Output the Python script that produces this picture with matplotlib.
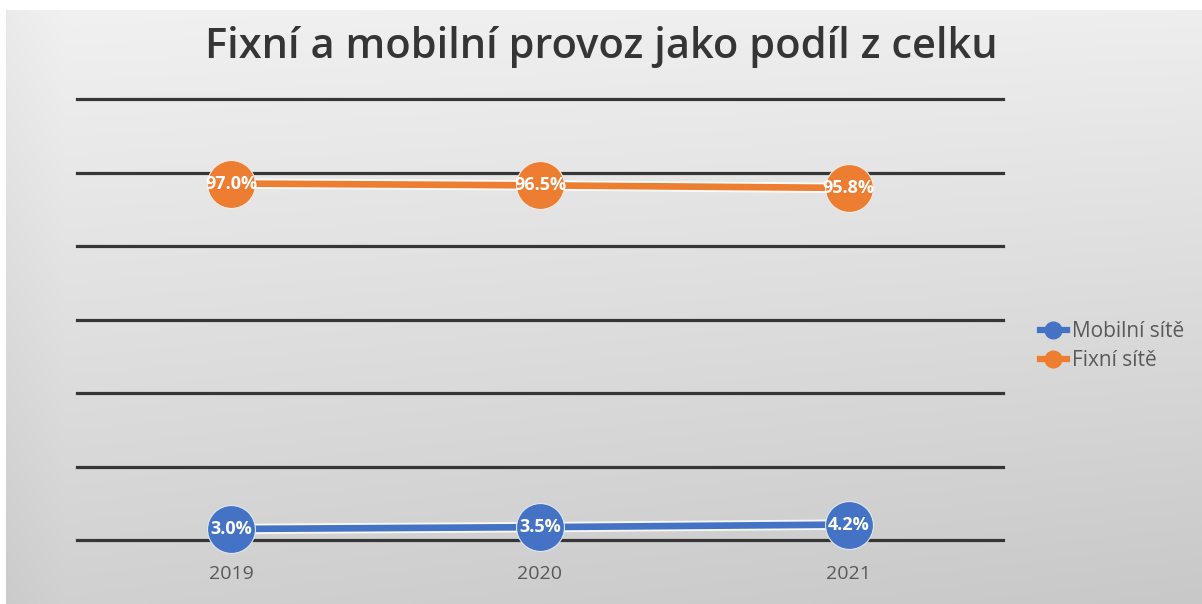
import numpy as np
import matplotlib
matplotlib.use("Agg")
import matplotlib.pyplot as plt
import matplotlib.patheffects as pe
from matplotlib.lines import Line2D

# ---- data ----
years = ["2019", "2020", "2021"]
mobilni = [0.030, 0.035, 0.042]
fixni = [0.970, 0.965, 0.958]
series_names = ["Mobilní sítě", "Fixní sítě"]
title = "Fixní a mobilní provoz jako podíl z celku"
y_ticks = [0.0, 0.2, 0.4, 0.6, 0.8, 1.0, 1.2]

BLUE = "#4472C4"
ORANGE = "#ED7D31"
W, H = 1202, 604

fig = plt.figure(figsize=(W / 100, H / 100), dpi=100)
fig.patch.set_facecolor("white")

# background gradient panel
bg = fig.add_axes([6 / W, 0, 1 - 6 / W, (H - 10) / H])
bg.set_axis_off()
yy, xx = np.mgrid[0:594, 0:1196]
fy = yy / 594
fx = xx / 1196
v = 241 - 32 * fy - 6 * fx * fy - 3 * fx
v = v - 6 * np.clip(1 - xx / 60, 0, 1)
img = np.dstack([v, v, v]) / 255.0
bg.imshow(img, aspect="auto", extent=[0, 1, 0, 1], interpolation="bilinear")
bg.set_zorder(0)

ax = fig.add_axes([77 / W, (H - 540) / H, (1003 - 77) / W, (540 - 99) / H])
ax.set_facecolor("none")
ax.set_zorder(1)
x = np.arange(len(years))
ax.set_xlim(-0.5, len(years) - 0.5)
ax.set_ylim(y_ticks[0], y_ticks[-1])
for s in ax.spines.values():
    s.set_visible(False)
ax.set_yticks(y_ticks)
ax.set_yticklabels([])
ax.tick_params(axis="y", length=0)
for t in y_ticks:
    ax.axhline(t, color="#363636", linewidth=2.3, zorder=1, clip_on=False)
ax.set_xticks(x)
ax.set_xticklabels(years, fontsize=14, color="#595959", family="Open Sans")
ax.tick_params(axis="x", length=0, pad=18)

outline = [pe.Stroke(linewidth=7.5, foreground="white", alpha=0.85), pe.Normal()]
for vals, col, name in [(mobilni, BLUE, series_names[0]), (fixni, ORANGE, series_names[1])]:
    ln, = ax.plot(x, vals, color=col, lw=4.8, zorder=3, clip_on=False, solid_capstyle="butt")
    ln.set_path_effects(outline)
    ax.plot(x, vals, linestyle="none", marker="o", markersize=34.5, color=col,
            markeredgecolor="#f4e9e0" if col == ORANGE else "#dfe6f3",
            markeredgewidth=0.8, zorder=4, clip_on=False)
    for xi, v_ in zip(x, vals):
        ax.text(xi, v_, f"{v_ * 100:.1f}%", ha="center", va="center", color="white",
                fontsize=13, fontweight="bold", family="Open Sans", zorder=5)

handles = [Line2D([0], [0], color=BLUE, lw=4.5, marker="o", markersize=12),
           Line2D([0], [0], color=ORANGE, lw=4.5, marker="o", markersize=12)]
fig.legend(handles, series_names, loc="center left", bbox_to_anchor=(1021 / W, 1 - 346 / H),
           frameon=False, handlelength=1.3, handletextpad=0.25,
           labelspacing=0.4, labelcolor="#595959", prop={"family": "Open Sans", "size": 15})

fig.text(0.5, 1 - 47 / H, title, ha="center", va="center", fontsize=30,
         color="#353535", family="Open Sans", fontweight="semibold")

fig.savefig("out.png", dpi=100)
